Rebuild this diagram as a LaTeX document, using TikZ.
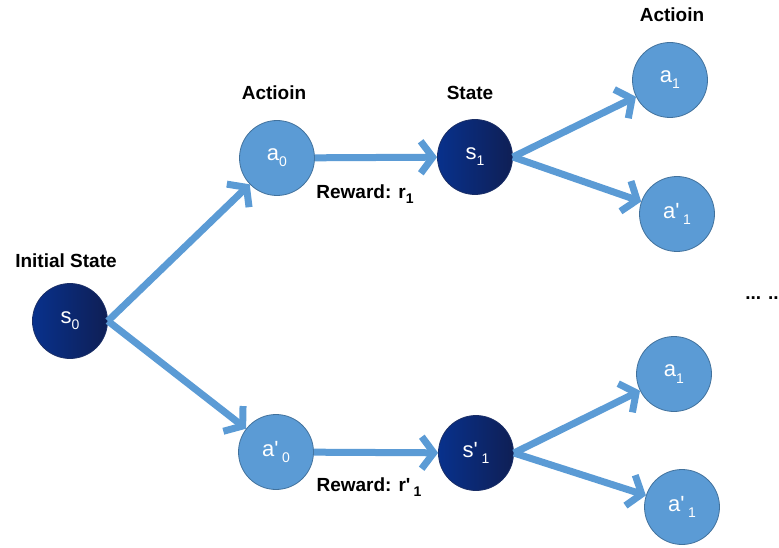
\documentclass[tikz,border=0pt]{standalone}
\usepackage{fontspec}
\setmainfont{Liberation Sans}
\usetikzlibrary{arrows.meta}
\definecolor{lblue}{HTML}{5B9BD5}
\definecolor{lborder}{HTML}{41719C}
\definecolor{dleft}{HTML}{08318C}
\definecolor{dright}{HTML}{0F1F55}
\definecolor{dborder}{HTML}{1A2E66}
\newcommand{\mysub}[1]{\raisebox{-0.28em}{\fontsize{14}{14}\selectfont #1}}
\newcommand{\pr}{\textquotesingle\,}
\begin{document}
\begin{tikzpicture}[x=1pt,y=-1pt,
  actnode/.style={circle,minimum size=75pt,inner sep=0pt,fill=lblue,draw=lborder,line width=0.8pt,text=white,font=\fontsize{22}{22}\selectfont},
  statenode/.style={circle,minimum size=75pt,inner sep=0pt,left color=dleft,right color=dright,draw=dborder,line width=0.8pt,text=white,font=\fontsize{22}{22}\selectfont},
  lab/.style={font=\fontsize{19}{19}\selectfont\bfseries,inner sep=0pt},
  conn/.style={draw=lblue,line width=7pt,-{Straight Barb[length=12pt,width=32pt,line width=7pt]}}
]
\useasboundingbox (0,0) rectangle (779,548);
\node[statenode] (s0) at (70,321) {s\mysub{0}};
\node[actnode] (a0) at (277,158) {a\mysub{0}};
\node[actnode] (ap0) at (276,452) {a\pr\mysub{0}};
\node[statenode] (s1) at (475,157) {s\mysub{1}};
\node[statenode] (sp1) at (476,453) {s\pr\mysub{1}};
\node[actnode] (a1t) at (670,80) {a\mysub{1}};
\node[actnode] (ap1t) at (677,214) {a\pr\mysub{1}};
\node[actnode] (a1b) at (674,374) {a\mysub{1}};
\node[actnode] (ap1b) at (682,507) {a\pr\mysub{1}};

\node[lab] (l0) at (66,261) {Initial State};
\node[lab] (l1) at (274,93) {Actioin};
\node[lab] (l2) at (470,93) {State};
\node[lab] (l3) at (672,15) {Actioin};
\node[lab] (r1) at (365,194) {Reward: r\mysub{1}};
\node[lab] (r2) at (369,487) {Reward: r\pr\mysub{1}};
\node[lab] (dots) at (762,298) {... ..};

\draw[conn] (s0.east) -- (a0);
\draw[conn] (s0.east) -- (ap0);
\draw[conn] (a0) -- (s1);
\draw[conn] (ap0) -- (sp1);
\draw[conn] (s1.east) -- (a1t);
\draw[conn] (s1.east) -- (ap1t);
\draw[conn] (sp1.east) -- (a1b);
\draw[conn] (sp1.east) -- (ap1b);
\end{tikzpicture}
\end{document}
